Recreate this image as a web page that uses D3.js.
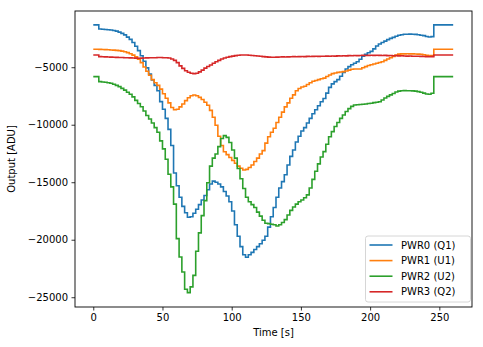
<!DOCTYPE html>
<html><head><meta charset="utf-8">
<script src="https://cdn.jsdelivr.net/npm/d3@7"></script>
<style>body{margin:0;background:#fff}svg{display:block;font-family:"DejaVu Sans",sans-serif}</style>
</head><body>
<svg id="c" width="483" height="347"></svg>
<script>
const seriesNames = ["PWR0 (Q1)", "PWR1 (U1)", "PWR2 (U2)", "PWR3 (Q2)"];
const seriesColors = ["#1f77b4", "#ff7f0e", "#2ca02c", "#d62728"];
const timeStep = 2; // seconds between samples
const xTicks = [0, 50, 100, 150, 200, 250];
const yTicks = [-25000, -20000, -15000, -10000, -5000];

const pwr0 = [-1320,-1320,-1670,-1700,-1720,-1740,-1760,-1800,-1860,-1950,-2060,-2190,-2380,-2580,-2850,-3170,-3560,-4000,-4480,-5060,
-5600,-6100,-6580,-7050,-7990,-8650,-9450,-10400,-11800,-14200,-15300,-16300,-17100,-17650,-18050,-18000,-17700,-17350,-16950,-16550,
-16150,-15650,-15150,-14900,-15000,-15150,-15400,-15800,-16200,-16700,-17500,-18700,-19700,-20600,-21300,-21520,-21300,-21100,-20850,-20600,
-20350,-20050,-19700,-18900,-18000,-17200,-16300,-15500,-14950,-14350,-13500,-12750,-12200,-11500,-11000,-10550,-10250,-9850,-9450,-9050,
-8700,-8350,-8000,-7720,-7250,-6750,-6450,-6250,-6080,-5780,-5450,-5150,-4950,-4780,-4650,-4520,-4300,-4050,-3870,-3740,
-3620,-3400,-3150,-2980,-2850,-2730,-2600,-2490,-2400,-2300,-2220,-2170,-2130,-2130,-2120,-2130,-2140,-2180,-2220,-2250,
-2330,-2370,-2340,-1320,-1320,-1320,-1320,-1320,-1320,-1320,-1320];
const pwr1 = [-3435,-3440,-3450,-3460,-3470,-3480,-3500,-3510,-3530,-3560,-3600,-3650,-3730,-3830,-3950,-4100,-4300,-4600,-4980,-5350,
-5700,-6080,-6350,-6580,-6900,-7300,-7700,-8100,-8500,-8700,-8650,-8450,-8200,-7900,-7650,-7480,-7410,-7480,-7620,-7800,
-8050,-8300,-8750,-9350,-10050,-11000,-11800,-12350,-12600,-12850,-13100,-13350,-13600,-13780,-13930,-13880,-13720,-13500,-13200,-12900,
-12550,-12250,-11600,-11050,-10650,-10300,-9800,-9350,-8900,-8450,-8100,-7700,-7400,-7050,-6850,-6720,-6650,-6500,-6350,-6220,
-6150,-6080,-6000,-5950,-5800,-5680,-5560,-5500,-5450,-5410,-5380,-5330,-5250,-5170,-5150,-5150,-5150,-5050,-4950,-4850,
-4790,-4720,-4650,-4590,-4520,-4400,-4280,-4170,-4060,-3950,-3860,-3840,-3840,-3830,-3840,-3840,-3850,-3860,-3870,-3920,
-3960,-3990,-3990,-3435,-3435,-3435,-3435,-3435,-3435,-3435,-3435];
const pwr2 = [-5817,-5817,-6250,-6280,-6310,-6350,-6390,-6480,-6580,-6690,-6840,-6990,-7170,-7350,-7580,-7880,-8150,-8430,-8800,-9200,
-9500,-9850,-10250,-10650,-11400,-12100,-13000,-14300,-15400,-16900,-19900,-21500,-22800,-24300,-24600,-24100,-23100,-21000,-19400,-17900,
-16600,-15050,-13600,-12900,-12550,-11900,-11200,-10950,-11100,-11550,-12200,-12900,-13800,-14700,-15550,-16300,-16700,-16950,-17200,-17600,
-17950,-18300,-18570,-18600,-18650,-18700,-18800,-18700,-18500,-18250,-17850,-17450,-17150,-16900,-16700,-16550,-16350,-16100,-15500,-14750,
-14050,-13400,-12800,-12340,-11700,-11050,-10600,-10150,-9800,-9450,-9150,-8850,-8600,-8400,-8280,-8260,-8240,-8220,-8200,-8160,
-8130,-8080,-8040,-8000,-7850,-7680,-7530,-7400,-7280,-7160,-7080,-7040,-7030,-7040,-7050,-7060,-7080,-7120,-7170,-7250,
-7330,-7350,-7260,-5817,-5817,-5817,-5817,-5817,-5817,-5817,-5817];
const pwr3 = [-3930,-3930,-4080,-4090,-4100,-4110,-4120,-4130,-4140,-4150,-4160,-4170,-4180,-4190,-4200,-4210,-4220,-4210,-4200,-4190,
-4180,-4170,-4170,-4160,-4160,-4170,-4170,-4200,-4280,-4400,-4600,-4880,-5100,-5300,-5430,-5520,-5560,-5520,-5400,-5250,
-5080,-4930,-4800,-4650,-4520,-4400,-4280,-4200,-4130,-4080,-4030,-3990,-3960,-3940,-3930,-3940,-3960,-3980,-4000,-4020,
-4050,-4080,-4100,-4120,-4130,-4130,-4120,-4110,-4100,-4110,-4100,-4090,-4080,-4090,-4080,-4070,-4080,-4060,-4070,-4060,
-4050,-4060,-4040,-4050,-4030,-4040,-4020,-4030,-4010,-4020,-4000,-4010,-3990,-4000,-3980,-3990,-3980,-3970,-3980,-3970,
-3960,-3970,-3960,-3970,-3980,-3970,-3990,-3980,-4000,-3990,-4010,-4000,-4020,-4030,-4020,-4040,-4050,-4040,-4060,-4070,
-4080,-4090,-4080,-3930,-3930,-3930,-3930,-3930,-3930,-3930,-3930];
const seriesValues = [pwr0, pwr1, pwr2, pwr3];

const svg = d3.select("#c");
const m = {left: 75, top: 11, right: 472, bottom: 307};
const x = d3.scaleLinear().domain([-13.2, 273.6]).range([m.left, m.right]);
const y = d3.scaleLinear().domain([-25850, -110]).range([m.bottom, m.top]);

svg.append("defs").append("clipPath").attr("id", "clip")
  .append("rect").attr("x", m.left).attr("y", m.top).attr("width", m.right - m.left).attr("height", m.bottom - m.top);

const line = d3.line().x(d => x(d[0])).y(d => y(d[1])).curve(d3.curveStepAfter);
const g = svg.append("g").attr("clip-path", "url(#clip)");
seriesValues.forEach((vals, i) => {
  const pts = vals.map((v, k) => [k * timeStep, v]);
  g.append("path").datum(pts).attr("d", line)
    .attr("fill", "none").attr("stroke", seriesColors[i]).attr("stroke-width", 1.6)
    .attr("stroke-linejoin", "miter");
});

const fmt = d3.format("d");
const xa = svg.append("g").attr("transform", `translate(0,${m.bottom})`)
  .call(d3.axisBottom(x).tickValues(xTicks).tickSize(3.5).tickPadding(3.5).tickFormat(fmt));
const ya = svg.append("g").attr("transform", `translate(${m.left},0)`)
  .call(d3.axisLeft(y).tickValues(yTicks).tickSize(3.5).tickPadding(3.5).tickFormat(fmt));
[xa, ya].forEach(a => {
  a.select(".domain").remove();
  a.selectAll("line").attr("stroke", "#000").attr("stroke-width", 0.8);
  a.selectAll("text").attr("fill", "#000").style("font-size", "10px").style("font-family", "DejaVu Sans");
});

svg.append("rect").attr("x", m.left).attr("y", m.top).attr("width", m.right - m.left).attr("height", m.bottom - m.top)
  .attr("fill", "none").attr("stroke", "#000").attr("stroke-width", 0.9);

svg.append("text").attr("x", (m.left + m.right) / 2).attr("y", 336).attr("text-anchor", "middle")
  .style("font-size", "10px").text("Time [s]");
svg.append("text").attr("transform", `translate(15,${(m.top + m.bottom) / 2}) rotate(-90)`).attr("text-anchor", "middle")
  .style("font-size", "10px").text("Output [ADU]");

// legend
const lg = svg.append("g");
lg.append("rect").attr("x", 365.5).attr("y", 236).attr("width", 105).attr("height", 66).attr("rx", 2.5)
  .attr("fill", "#fff").attr("fill-opacity", 0.8).attr("stroke", "#ccc").attr("stroke-width", 0.8);
seriesNames.forEach((name, i) => {
  const yy = 245 + i * 15.6;
  lg.append("line").attr("x1", 369.5).attr("x2", 392.5).attr("y1", yy).attr("y2", yy)
    .attr("stroke", seriesColors[i]).attr("stroke-width", 1.6);
  lg.append("text").attr("x", 401).attr("y", yy).attr("dy", "0.35em")
    .style("font-size", "10px").text(name);
});
</script>
</body></html>
